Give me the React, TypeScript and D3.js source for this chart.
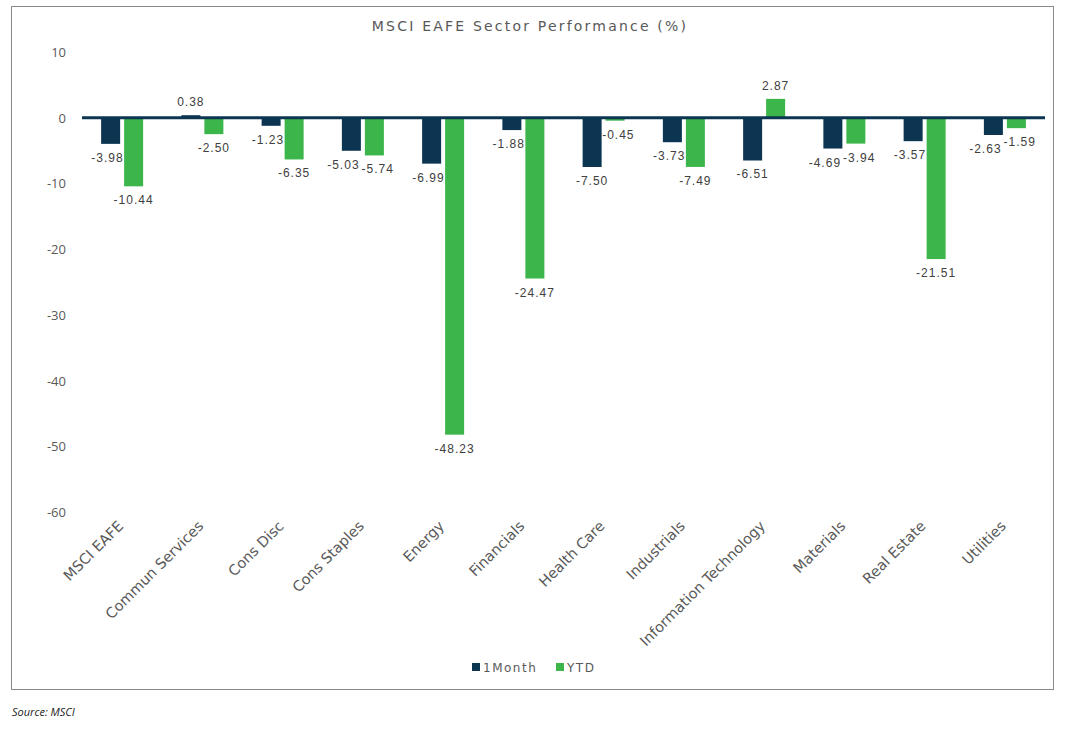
import React from "react";
import * as d3 from "d3";

const categories = [
  "MSCI EAFE",
  "Commun Services",
  "Cons Disc",
  "Cons Staples",
  "Energy",
  "Financials",
  "Health Care",
  "Industrials",
  "Information Technology",
  "Materials",
  "Real Estate",
  "Utilities",
];
const month1 = [-3.98, 0.38, -1.23, -5.03, -6.99, -1.88, -7.5, -3.73, -6.51, -4.69, -3.57, -2.63];
const ytd = [-10.44, -2.5, -6.35, -5.74, -48.23, -24.47, -0.45, -7.49, 2.87, -3.94, -21.51, -1.59];
const yTicks = [10, 0, -10, -20, -30, -40, -50, -60];
const seriesNames = ["1Month", "YTD"];

const NAVY = "#0B3551";
const GREEN = "#3CB54A";
const GRAY = "#595959";

const fmt = (v: number) => d3.format(".2f")(v).replace("\u2212", "-");

export default function App() {
  const W = 1071;
  const H = 731;
  const plotLeft = 82;
  const plotRight = 1045;
  const y = d3.scaleLinear().domain([-60, 10]).range([512, 52]);
  const x = d3.scaleBand<string>().domain(categories).range([plotLeft, plotRight]).padding(0);
  const series = [month1, ytd];
  const colors = [NAVY, GREEN];
  const barW = 19;
  const offsets = [-11.5, 11.5];
  const labelFont = "'Liberation Sans', Arial, sans-serif";
  const axisFont = "'Open Sans', sans-serif";
  const catFont = "'DejaVu Sans', sans-serif";

  const textW = (s: string) => {
    let w = 0;
    for (const ch of s) w += ch === "." ? 3.3 : ch === "-" ? 4 : 6.7;
    return w + (s.length - 1) * 1;
  };

  // label layout with simple collision avoidance per category
  const labels = categories.map((c, i) => {
    const center = (x(c) as number) + x.bandwidth() / 2;
    const items = series.map((vals, si) => {
      const v = vals[i];
      const bx = center + offsets[si];
      const yv = y(v);
      return { si, v, text: fmt(v), x: bx, y: v >= 0 ? yv - 9 : yv + 18, w: textW(fmt(v)) };
    });
    const [a, b] = items;
    const y0 = y(0);
    const boxOverlapsBar = (l: typeof a, v: number) => {
      const top = Math.min(y0, y(v));
      const bot = Math.max(y0, y(v));
      return l.y - 9 < bot && l.y + 1 > top;
    };
    if (boxOverlapsBar(a, b.v)) {
      const greenLeft = b.x - barW / 2;
      const right = a.x + a.w / 2;
      if (right > greenLeft - 1) a.x -= right - (greenLeft - 1);
    }
    if (boxOverlapsBar(b, a.v)) {
      const navyRight = center + offsets[0] + barW / 2;
      const left = b.x - b.w / 2;
      if (left < navyRight + 1) b.x += navyRight + 1 - left;
    }
    if (Math.abs(a.y - b.y) < 13) {
      const need = (a.w + b.w) / 2 + 3 - (b.x - a.x);
      if (need > 0) {
        a.x -= need * 0.7;
        b.x += need * 0.3;
      }
    }
    return items;
  });

  return (
    <svg width={W} height={H} style={{ position: "absolute", left: 0, top: 0, background: "#fff" }}>
      <rect x={0} y={0} width={W} height={H} fill="#fff" />
      <rect x={11.5} y={6.5} width={1042} height={683} fill="#fff" stroke="#8a8a8a" strokeWidth={1} />
      <text
        x={530}
        y={31}
        textAnchor="middle"
        fontFamily={"'DejaVu Sans', sans-serif"}
        fontSize={14}
        letterSpacing={2.2}
        fill={GRAY}
      >
        MSCI EAFE Sector Performance (%)
      </text>
      {yTicks.map((t) => (
        <text
          key={t}
          x={66}
          y={y(t) + 5}
          textAnchor="end"
          fontFamily={axisFont}
          fontSize={13}
          fill={GRAY}
        >
          {t}
        </text>
      ))}
      {series.map((vals, si) =>
        vals.map((v, i) => {
          const cx = (x(categories[i]) as number) + x.bandwidth() / 2 + offsets[si];
          const y0 = y(0);
          const yv = y(v);
          return (
            <rect
              key={`${si}-${i}`}
              x={cx - barW / 2}
              y={Math.min(y0, yv)}
              width={barW}
              height={Math.abs(yv - y0)}
              fill={colors[si]}
            />
          );
        })
      )}
      <line x1={plotLeft} x2={plotRight} y1={y(0)} y2={y(0)} stroke={NAVY} strokeWidth={3} />
      {labels.flat().map((l, k) => (
        <text
          key={k}
          x={l.x}
          y={l.y}
          textAnchor="middle"
          fontFamily={labelFont}
          fontSize={12}
          letterSpacing={1}
          fill="#404040"
        >
          {l.text}
        </text>
      ))}
      {categories.map((c) => {
        const cx = (x(c) as number) + x.bandwidth() / 2;
        return (
          <text
            key={c}
            transform={`translate(${cx + 2},${527}) rotate(-45)`}
            textAnchor="end"
            fontFamily={catFont}
            fontSize={14.5}
            fill={GRAY}
          >
            {c}
          </text>
        );
      })}
      <g fontFamily={"'DejaVu Sans', sans-serif"} fontSize={12} letterSpacing={1.5} fill={GRAY}>
        <rect x={472} y={663} width={8} height={8} fill={NAVY} />
        <text x={483} y={672}>{seriesNames[0]}</text>
        <rect x={556} y={663} width={8} height={8} fill={GREEN} />
        <text x={567} y={672}>{seriesNames[1]}</text>
      </g>
      <text x={12} y={716} fontFamily={axisFont} fontStyle="italic" fontSize={11} fill="#222">
        Source: MSCI
      </text>
    </svg>
  );
}
